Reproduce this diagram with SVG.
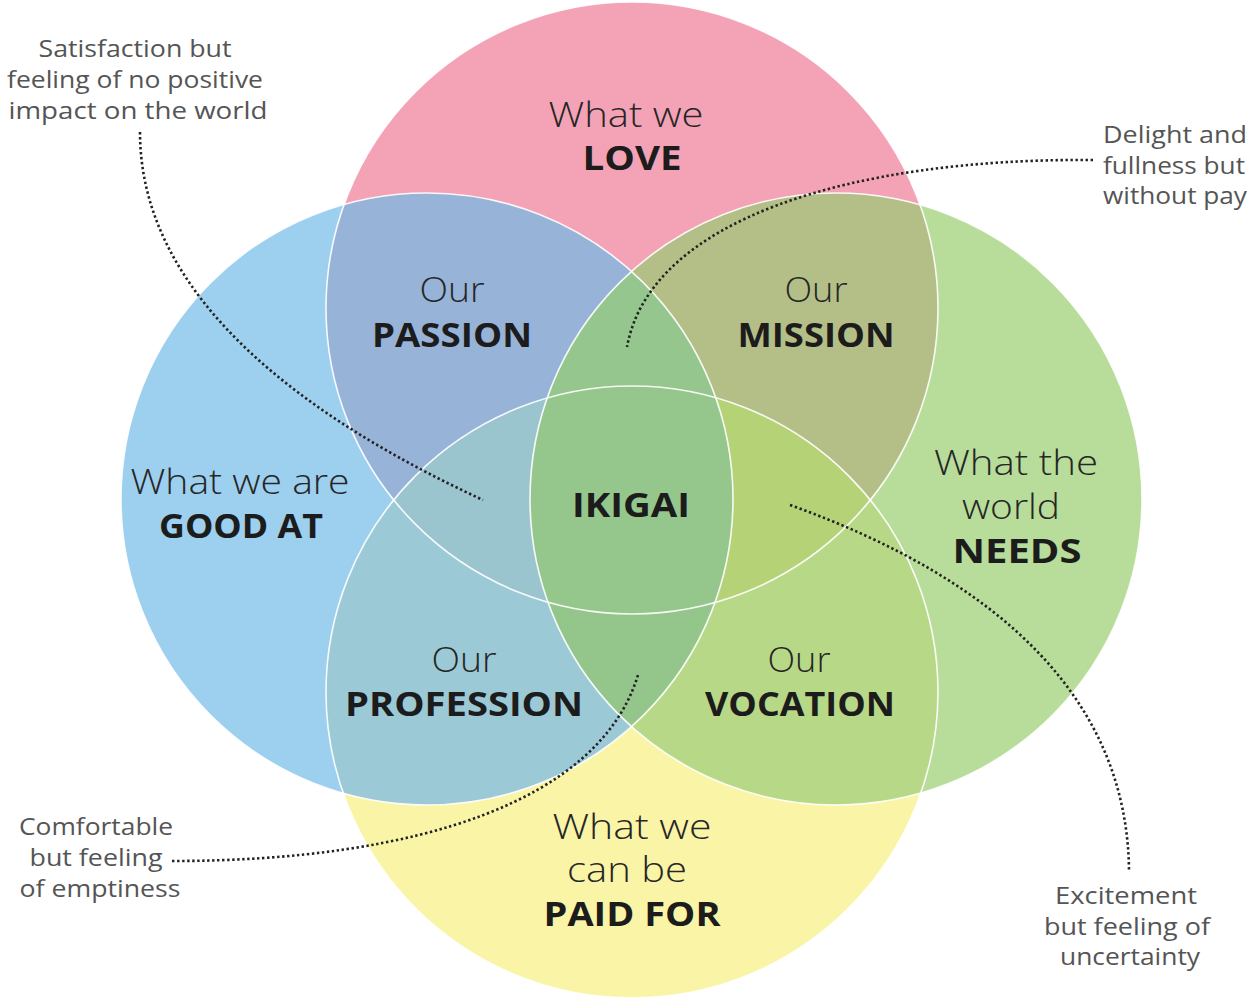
<svg xmlns="http://www.w3.org/2000/svg" width="1259" height="1001" viewBox="0 0 1259 1001">
  <style>
    .lt { font-family: "Open Sans", "Liberation Sans", sans-serif; font-weight: 300; font-size: 35px; fill: #262626; text-anchor: middle; }
    .bd { font-family: "Open Sans", "Liberation Sans", sans-serif; font-weight: 700; font-size: 34px; fill: #1c1c1c; text-anchor: middle; }
    .an { font-family: "Open Sans", "Liberation Sans", sans-serif; font-weight: 400; font-size: 24px; fill: #555555; text-anchor: middle; }
    .ring { fill: none; stroke: #ffffff; stroke-width: 1.6; stroke-opacity: 0.9; }
    .dots { fill: none; stroke: #222222; stroke-width: 2.6; stroke-dasharray: 2.4 2.6; }
  </style>
  <defs>
    <clipPath id="cP"><circle cx="632" cy="308" r="306"/></clipPath>
    <clipPath id="cB"><circle cx="427" cy="499" r="306"/></clipPath>
    <clipPath id="cG"><circle cx="836" cy="499" r="306"/></clipPath>
    <clipPath id="cY"><circle cx="632" cy="692" r="306"/></clipPath>
  </defs>
  <rect width="1259" height="1001" fill="#ffffff"/>

  <!-- big circles -->
  <g id="node-love">
    <circle cx="632" cy="308" r="306" fill="#F4A3B7"/>
  </g>
  <g id="node-good-at">
    <circle cx="427" cy="499" r="306" fill="#9DCFEE"/>
  </g>
  <g id="node-needs">
    <circle cx="836" cy="499" r="306" fill="#B8DC99"/>
  </g>
  <g id="node-paid-for">
    <circle cx="632" cy="692" r="306" fill="#FAF4A6"/>
  </g>

  <!-- pair overlaps -->
  <g id="node-passion">
    <g clip-path="url(#cP)"><circle cx="427" cy="499" r="306" fill="#98B3D8"/></g>
  </g>
  <g id="node-mission">
    <g clip-path="url(#cP)"><circle cx="836" cy="499" r="306" fill="#B4BF87"/></g>
  </g>
  <g id="node-profession">
    <g clip-path="url(#cB)"><circle cx="632" cy="692" r="306" fill="#9CC9D6"/></g>
  </g>
  <g id="node-vocation">
    <g clip-path="url(#cG)"><circle cx="632" cy="692" r="306" fill="#B7D987"/></g>
  </g>

  <!-- triple overlaps -->
  <g id="triple-overlaps">
    <g clip-path="url(#cP)"><g clip-path="url(#cB)"><circle cx="836" cy="499" r="306" fill="#95C68D"/></g></g>
    <g clip-path="url(#cP)"><g clip-path="url(#cB)"><circle cx="632" cy="692" r="306" fill="#9AC4CE"/></g></g>
    <g clip-path="url(#cP)"><g clip-path="url(#cG)"><circle cx="632" cy="692" r="306" fill="#B5D277"/></g></g>
    <g clip-path="url(#cB)"><g clip-path="url(#cG)"><circle cx="632" cy="692" r="306" fill="#94C68C"/></g></g>
  </g>

  <g id="node-ikigai">
    <g clip-path="url(#cP)"><g clip-path="url(#cB)"><g clip-path="url(#cG)"><circle cx="632" cy="692" r="306" fill="#95C78D"/></g></g></g>
  </g>

  <!-- white outlines -->
  <g id="outlines">
    <circle class="ring" cx="632" cy="308" r="306"/>
    <circle class="ring" cx="427" cy="499" r="306"/>
    <circle class="ring" cx="836" cy="499" r="306"/>
    <circle class="ring" cx="632" cy="692" r="306"/>
  </g>

  <!-- labels -->
  <g id="label-love">
    <text class="lt" x="626" y="127" textLength="155" lengthAdjust="spacingAndGlyphs">What we</text>
    <text class="bd" x="632" y="170" textLength="99" lengthAdjust="spacingAndGlyphs">LOVE</text>
  </g>
  <g id="label-good-at">
    <text class="lt" x="240" y="494" textLength="219" lengthAdjust="spacingAndGlyphs">What we are</text>
    <text class="bd" x="241" y="538" textLength="164" lengthAdjust="spacingAndGlyphs">GOOD AT</text>
  </g>
  <g id="label-needs">
    <text class="lt" x="1016" y="475" textLength="164" lengthAdjust="spacingAndGlyphs">What the</text>
    <text class="lt" x="1011" y="519" textLength="98" lengthAdjust="spacingAndGlyphs">world</text>
    <text class="bd" x="1017" y="563" textLength="129" lengthAdjust="spacingAndGlyphs">NEEDS</text>
  </g>
  <g id="label-paid-for">
    <text class="lt" x="632" y="839" textLength="159" lengthAdjust="spacingAndGlyphs">What we</text>
    <text class="lt" x="627" y="882" textLength="120" lengthAdjust="spacingAndGlyphs">can be</text>
    <text class="bd" x="632" y="926" textLength="177" lengthAdjust="spacingAndGlyphs">PAID FOR</text>
  </g>
  <g id="label-passion">
    <text class="lt" x="452" y="302" textLength="65" lengthAdjust="spacingAndGlyphs">Our</text>
    <text class="bd" x="452" y="347" textLength="160" lengthAdjust="spacingAndGlyphs">PASSION</text>
  </g>
  <g id="label-mission">
    <text class="lt" x="816" y="302" textLength="63" lengthAdjust="spacingAndGlyphs">Our</text>
    <text class="bd" x="816" y="347" textLength="157" lengthAdjust="spacingAndGlyphs">MISSION</text>
  </g>
  <g id="label-profession">
    <text class="lt" x="464" y="672" textLength="65" lengthAdjust="spacingAndGlyphs">Our</text>
    <text class="bd" x="464" y="716" textLength="238" lengthAdjust="spacingAndGlyphs">PROFESSION</text>
  </g>
  <g id="label-vocation">
    <text class="lt" x="799" y="672" textLength="63" lengthAdjust="spacingAndGlyphs">Our</text>
    <text class="bd" x="800" y="716" textLength="190" lengthAdjust="spacingAndGlyphs">VOCATION</text>
  </g>
  <g id="label-ikigai">
    <text class="bd" x="631" y="517" textLength="118" lengthAdjust="spacingAndGlyphs">IKIGAI</text>
  </g>

  <!-- connectors -->
  <g id="connectors">
    <path class="dots" d="M140,132 C140,300 310,420 483,500"/>
    <path class="dots" d="M1093,160 C850,158 650,220 627,347"/>
    <path class="dots" d="M172,861 C420,861 600,800 638,675"/>
    <path class="dots" d="M790,505 C1000,580 1128,700 1129,872"/>
  </g>

  <!-- annotations -->
  <g id="note-satisfaction">
    <text class="an" x="135" y="57" textLength="193" lengthAdjust="spacingAndGlyphs">Satisfaction but</text>
    <text class="an" x="135" y="88" textLength="256" lengthAdjust="spacingAndGlyphs">feeling of no positive</text>
    <text class="an" x="138" y="119" textLength="259" lengthAdjust="spacingAndGlyphs">impact on the world</text>
  </g>
  <g id="note-delight">
    <text class="an" x="1175" y="143" textLength="144" lengthAdjust="spacingAndGlyphs">Delight and</text>
    <text class="an" x="1174" y="174" textLength="142" lengthAdjust="spacingAndGlyphs">fullness but</text>
    <text class="an" x="1175" y="204" textLength="144" lengthAdjust="spacingAndGlyphs">without pay</text>
  </g>
  <g id="note-comfortable">
    <text class="an" x="96" y="835" textLength="154" lengthAdjust="spacingAndGlyphs">Comfortable</text>
    <text class="an" x="96" y="866" textLength="133" lengthAdjust="spacingAndGlyphs">but feeling</text>
    <text class="an" x="100" y="897" textLength="161" lengthAdjust="spacingAndGlyphs">of emptiness</text>
  </g>
  <g id="note-excitement">
    <text class="an" x="1126" y="904" textLength="142" lengthAdjust="spacingAndGlyphs">Excitement</text>
    <text class="an" x="1127" y="935" textLength="166" lengthAdjust="spacingAndGlyphs">but feeling of</text>
    <text class="an" x="1130" y="965" textLength="140" lengthAdjust="spacingAndGlyphs">uncertainty</text>
  </g>
</svg>
